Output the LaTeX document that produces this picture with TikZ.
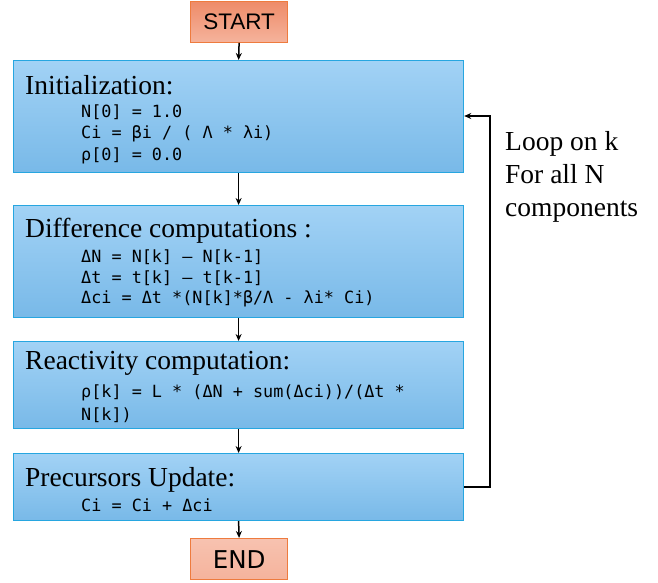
\documentclass[tikz,border=0pt]{standalone}
\usepackage{fontspec}
\setmainfont{Liberation Serif}
\newfontfamily\codefont{DejaVu Sans Mono}
\newfontfamily\startfont{Liberation Sans}
\newfontfamily\endfont{DejaVu Sans}
\usetikzlibrary{arrows.meta}
\definecolor{bluetop}{HTML}{A2D2F5}
\definecolor{bluebot}{HTML}{78B9E8}
\definecolor{blueline}{HTML}{27A6E0}
\definecolor{orangetop}{HTML}{EE8B68}
\definecolor{orangebot}{HTML}{F5B39C}
\definecolor{orangeline}{HTML}{EE7B3E}
\tikzset{
  procbox/.style={draw=blueline, line width=1.2pt, top color=bluetop, bottom color=bluebot},
  termbox/.style={draw=orangeline, line width=1.2pt, top color=orangetop, bottom color=orangebot},
  flow/.style={-{Stealth[length=7pt,width=6pt]}, line width=1.5pt, black},
  titletext/.style={anchor=west, font=\fontsize{27.5}{30}\selectfont, inner sep=0pt},
  codetext/.style={anchor=west, font=\codefont\fontsize{16.8}{21.5}\selectfont, inner sep=0pt, align=left},
}
\begin{document}
\begin{tikzpicture}[x=1pt,y=-1pt]
\useasboundingbox (0,0) rectangle (658,583);
% terminals
\node[termbox, minimum width=97pt, minimum height=41pt, inner sep=0pt, anchor=north west,
  font=\startfont\fontsize{22.5}{25}\selectfont] (start) at (190,0.6) {START};
\node[termbox, minimum width=97pt, minimum height=41pt, inner sep=0pt, anchor=north west,
  font=\endfont\fontsize{24.5}{27}\selectfont, top color=orangebot!80!white, bottom color=orangebot] (end) at (190,538) {END};
% process boxes
\node[procbox, minimum width=450pt, minimum height=112pt, inner sep=0pt, anchor=north west] (b1) at (13,60) {};
\node[procbox, minimum width=450pt, minimum height=112pt, inner sep=0pt, anchor=north west] (b2) at (13,205) {};
\node[procbox, minimum width=450pt, minimum height=87pt, inner sep=0pt, anchor=north west] (b3) at (13,341) {};
\node[procbox, minimum width=450pt, minimum height=67pt, inner sep=0pt, anchor=north west] (b4) at (13,453) {};
% texts box 1
\node[titletext] (t1) at (25,85) {Initialization:};
\node[codetext] (c1a) at (81,112) {N[0] = 1.0};
\node[codetext] (c1b) at (81,134) {Ci = βi / ( Λ * λi)};
\node[codetext] (c1c) at (81,156) {ρ[0] = 0.0};
% texts box 2
\node[titletext] (t2) at (25,231) {Difference computations :};
\node[codetext] (c2a) at (81,257) {ΔN = N[k] – N[k-1]};
\node[codetext] (c2b) at (81,278) {Δt = t[k] – t[k-1]};
\node[codetext] (c2c) at (81,299) {Δci = Δt *(N[k]*β/Λ - λi* Ci)};
% texts box 3
\node[titletext] (t3) at (25,363) {Reactivity computation:};
\node[codetext] (c3a) at (81,393) {ρ[k] = L * (ΔN + sum(Δci))/(Δt *};
\node[codetext] (c3b) at (81,415) {N[k])};
% texts box 4
\node[titletext] (t4) at (25,480) {Precursors Update:};
\node[codetext] (c4a) at (81,505) {Ci = Ci + Δci};
% loop label
\node[anchor=north west, align=left, inner sep=0pt,
  font=\fontsize{27.5}{33}\selectfont] (loop) at (505,131) {Loop on k\\For all N\\components};
% connectors
\draw[flow] (start.south) -- (b1.north);
\draw[flow] (b1.south) -- (b2.north);
\draw[flow] (b2.south) -- (b3.north);
\draw[flow] (b3.south) -- (b4.north);
\draw[flow] (b4.south) -- (end.north);
\coordinate (lb) at (490,487);
\coordinate (lt) at (490,116);
\draw[flow] (b4.east |- lb) -- (lb) -- (lt) -- (b1.east |- lt);
\end{tikzpicture}
\end{document}
